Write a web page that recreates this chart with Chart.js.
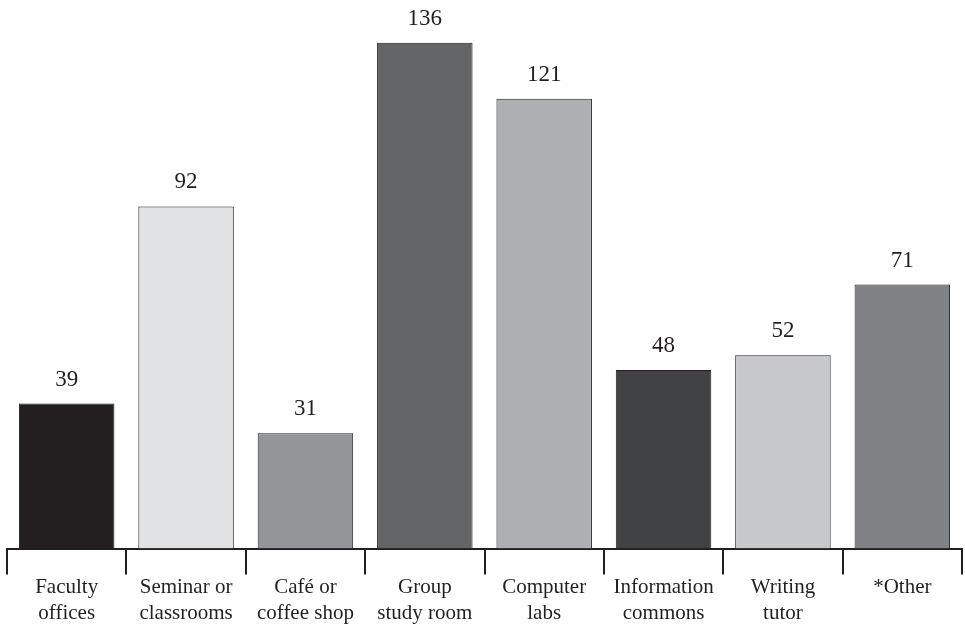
<!DOCTYPE html>
<html lang="en">
<head>
<meta charset="UTF-8">
<title>Study locations</title>
<script src="https://cdn.jsdelivr.net/npm/chart.js@4/dist/chart.umd.min.js"></script>
<style>
  body { margin: 0; padding: 0; background: #ffffff; }
  #wrap { width: 965px; height: 630px; }
</style>
</head>
<body>
<div id="wrap"><canvas id="barChart" width="965" height="630"></canvas></div>
<script>
const categories = [
  ['Faculty', 'offices'],
  ['Seminar or', 'classrooms'],
  ['Café or', 'coffee shop'],
  ['Group', 'study room'],
  ['Computer', 'labs'],
  ['Information', 'commons'],
  ['Writing', 'tutor'],
  ['*Other']
];
const counts = [39, 92, 31, 136, 121, 48, 52, 71];
const barColors = ['#231f20', '#e1e2e4', '#939598', '#636466', '#adafb2', '#414244', '#c7c8ca', '#808285'];

// value labels above each bar
const valueLabels = {
  id: 'valueLabels',
  afterDatasetsDraw(chart) {
    const ctx = chart.ctx;
    const meta = chart.getDatasetMeta(0);
    ctx.save();
    ctx.font = '23px "Liberation Serif", "DejaVu Serif", serif';
    ctx.fillStyle = '#231f20';
    ctx.textAlign = 'center';
    ctx.textBaseline = 'alphabetic';
    meta.data.forEach((bar, i) => {
      ctx.fillText(String(counts[i]), bar.x, bar.y - 18);
    });
    ctx.restore();
  }
};

new Chart(document.getElementById('barChart').getContext('2d'), {
  type: 'bar',
  data: {
    labels: categories,
    datasets: [{
      data: counts,
      backgroundColor: barColors,
      borderColor: '#231f20',
      borderWidth: 1,
      borderSkipped: 'bottom',
      categoryPercentage: 0.8,
      barPercentage: 1.0
    }]
  },
  options: {
    responsive: false,
    animation: false,
    layout: { padding: { top: 28, left: 7, right: 3, bottom: 3 } },
    plugins: {
      legend: { display: false },
      tooltip: { enabled: false }
    },
    scales: {
      x: {
        offset: true,
        border: { display: true, color: '#231f20', width: 2 },
        grid: {
          offset: true,
          drawOnChartArea: false,
          drawTicks: true,
          tickLength: 26,
          color: '#231f20',
          lineWidth: 2
        },
        ticks: {
          padding: 0,
          color: '#231f20',
          maxRotation: 0,
          autoSkip: false,
          font: { family: '"Liberation Serif", "DejaVu Serif", serif', size: 21, lineHeight: 1.25 }
        }
      },
      y: {
        display: false,
        min: 0,
        max: 140
      }
    }
  },
  plugins: [valueLabels]
});
</script>
</body>
</html>
